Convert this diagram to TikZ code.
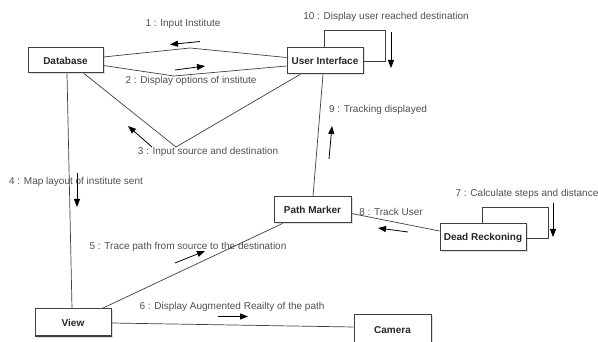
\documentclass[tikz,border=0pt]{standalone}
\usepackage{fontspec}
\setmainfont{Liberation Sans}
\usetikzlibrary{arrows.meta,shadows}
\definecolor{lblgray}{HTML}{505050}
\definecolor{edgegray}{HTML}{404040}
\begin{document}
\begin{tikzpicture}[x=1pt,y=-1pt,
  obj/.style={draw=edgegray,line width=1pt,fill=white,rectangle,inner sep=0pt,
    font=\fontsize{10}{12}\selectfont\bfseries,text=black!85,
    drop shadow={opacity=0.25,shadow xshift=1.5pt,shadow yshift=-1.5pt}},
  link/.style={draw=edgegray,line width=0.7pt},
  msg/.style={draw=black,line width=0.8pt,-{Triangle[length=8pt,width=6pt]}},
  lbl/.style={font=\fontsize{10}{12}\selectfont,text=lblgray,inner sep=0pt}]
\clip (0,0) rectangle (598,342);
\fill[white] (0,0) rectangle (598,342);
% objects
\node[obj,minimum width=75pt,minimum height=25pt] (db) at (65.5,60.5) {Database};
\node[obj,minimum width=76pt,minimum height=26pt] (ui) at (325,61) {User Interface};
\node[obj,minimum width=77pt,minimum height=26pt] (pm) at (312.5,210) {Path Marker};
\node[obj,minimum width=86pt,minimum height=27pt] (dr) at (483,237.5) {Dead Reckoning};
\node[obj,minimum width=76pt,minimum height=27pt] (view) at (73,322.5) {View};
\node[obj,minimum width=77pt,minimum height=30pt] (cam) at (392.5,330) {Camera};
% links
\coordinate (p1) at (190,48);
\coordinate (p2) at (174,76);
\coordinate (p3) at (176,147);
\coordinate (c10) at (385,30);
\coordinate (c7) at (548,207);
\draw[link] ([yshift=3.5pt]db.east) -- (p1) -- ([yshift=3.5pt]ui.west);
\draw[link] ([yshift=-5pt]db.east) -- (p2) -- ([yshift=-5pt]ui.west);
\draw[link] ([xshift=18.5pt]db.south) -- (p3) -- ([xshift=-25pt]ui.south);
\draw[link] ([xshift=1.5pt]db.south) -- ([xshift=-1pt]view.north);
\draw[link] ([xshift=29pt]view.north) -- ([xshift=-30pt]pm.south);
\draw[link] ([yshift=-0.5pt]view.east) -- ([yshift=3pt]cam.west);
\draw[link] ([xshift=0.5pt]pm.north) -- ([xshift=-2pt]ui.south);
\draw[link] ([yshift=-3.5pt]pm.east) -- ([yshift=6.5pt]dr.west);
\draw[link] ([xshift=-1pt]ui.north) |- (c10) |- (ui.east);
\draw[link] ([xshift=-1pt]dr.north) |- (c7) |- ([yshift=-0.5pt]dr.east);
% message arrows
\draw[msg] (200,41.5) -- (170,44.5);
\draw[msg] (175,70) -- (205,66);
\draw[msg] (152,147) -- (128,126);
\draw[msg] (77,173) -- (77,207);
\draw[msg] (175,263) -- (205,251);
\draw[msg] (218,316.5) -- (248,316.5);
\draw[msg] (553,203) -- (553,237);
\draw[msg] (408,232) -- (378,228);
\draw[msg] (329,159) -- (332,126);
\draw[msg] (391,32) -- (391,68);
% labels
\node[lbl] at (183,24) {1 : Input Institute};
\node[lbl] at (191,81) {2 : Display options of institute};
\node[lbl] at (208,152) {3 : Input source and destination};
\node[lbl] at (76,182) {4 : Map layout of institute sent};
\node[lbl] at (188,247) {5 : Trace path from source to the destination};
\node[lbl] at (232,307) {6 : Display Augmented Reailty of the path};
\node[lbl] at (527,194) {7 : Calculate steps and distance};
\node[lbl] at (391,212) {8 : Track User};
\node[lbl] at (378,110) {9 : Tracking displayed};
\node[lbl] at (386,17) {10 : Display user reached destination};
\end{tikzpicture}
\end{document}
